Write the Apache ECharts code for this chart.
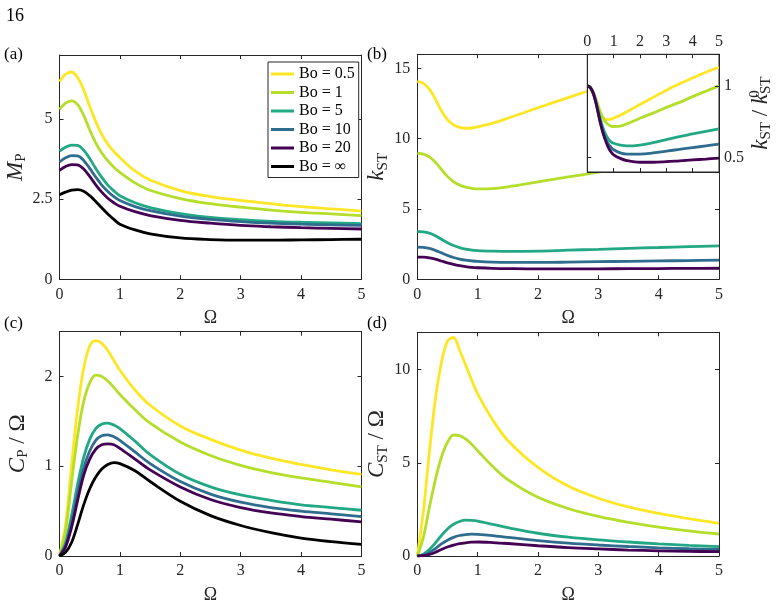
<!DOCTYPE html>
<html><head><meta charset="utf-8">
<script src="https://cdn.jsdelivr.net/npm/echarts@6/dist/echarts.min.js"></script>
<style>html,body{margin:0;padding:0;background:#fff}#c{width:776px;height:605px}</style>
</head><body><div id="c"></div>
<script>
// ---------- data ----------
const omega = [0,0.1,0.2,0.3,0.4,0.5,0.6,0.7,0.8,0.9,1,1.25,1.5,2,2.5,3,3.5,4,4.5,5];
const boNames = ['Bo = 0.5','Bo = 1','Bo = 5','Bo = 10','Bo = 20','Bo = ∞'];
const boColors = ['#FDE725','#B5DE2B','#22A884','#2F6D8E','#440154','#000000'];
const xTickVals = [0,1,2,3,4,5];
const aTickVals = [0,2.5,5];
const bTickVals = [0,5,10,15];
const cTickVals = [0,1,2];
const dTickVals = [0,5,10];
const insetTickVals = [0.5,1];

// (a) M_P
const mP_bo05 = [6.17,6.40,6.47,6.30,5.92,5.40,4.92,4.52,4.22,3.99,3.80,3.38,3.10,2.77,2.58,2.46,2.36,2.27,2.20,2.13];
const mP_bo1  = [5.30,5.50,5.57,5.45,5.12,4.66,4.26,3.94,3.70,3.50,3.34,3.01,2.78,2.52,2.36,2.25,2.16,2.09,2.04,1.99];
const mP_bo5  = [4.00,4.12,4.19,4.18,4.03,3.77,3.46,3.18,2.94,2.76,2.61,2.39,2.24,2.05,1.93,1.86,1.81,1.78,1.76,1.74];
const mP_bo10 = [3.66,3.79,3.86,3.85,3.71,3.46,3.19,2.94,2.74,2.58,2.46,2.27,2.14,1.97,1.87,1.80,1.75,1.72,1.70,1.68];
const mP_bo20 = [3.40,3.52,3.58,3.57,3.44,3.21,2.95,2.72,2.53,2.39,2.28,2.11,1.99,1.84,1.75,1.68,1.64,1.61,1.59,1.57];
const mP_inf  = [2.64,2.72,2.78,2.80,2.75,2.61,2.43,2.23,2.04,1.87,1.72,1.54,1.42,1.29,1.24,1.22,1.22,1.23,1.24,1.25];

// (b) k_ST
const kST_bo05 = [14.07,13.93,13.52,12.81,11.98,11.35,10.98,10.80,10.74,10.76,10.84,11.10,11.45,12.20,12.92,13.62,14.25,14.85,15.40,15.95];
const kST_bo1  = [8.98,8.90,8.70,8.32,7.82,7.32,6.95,6.70,6.55,6.47,6.43,6.45,6.58,6.93,7.28,7.62,7.95,8.30,8.65,8.98];
const kST_bo5  = [3.40,3.38,3.28,3.10,2.85,2.60,2.40,2.25,2.14,2.08,2.04,2.00,1.98,2.00,2.07,2.13,2.20,2.26,2.32,2.38];
const kST_bo10 = [2.29,2.27,2.20,2.06,1.88,1.70,1.55,1.44,1.36,1.31,1.27,1.22,1.20,1.20,1.22,1.25,1.28,1.31,1.33,1.36];
const kST_bo20 = [1.58,1.57,1.52,1.43,1.30,1.17,1.06,0.97,0.90,0.85,0.82,0.78,0.76,0.74,0.74,0.745,0.755,0.765,0.775,0.785];

// (b) inset k_ST / k_ST^0
const kr_bo05 = [1,0.99,0.96,0.91,0.85,0.81,0.78,0.768,0.765,0.768,0.775,0.795,0.82,0.87,0.92,0.97,1.015,1.055,1.095,1.13];
const kr_bo1  = [1,0.99,0.97,0.925,0.87,0.815,0.775,0.745,0.73,0.72,0.717,0.72,0.735,0.775,0.81,0.85,0.885,0.925,0.963,1.0];
const kr_bo5  = [1,0.994,0.965,0.91,0.84,0.765,0.705,0.66,0.63,0.61,0.60,0.588,0.582,0.588,0.605,0.626,0.647,0.665,0.683,0.70];
const kr_bo10 = [1,0.99,0.96,0.90,0.82,0.74,0.675,0.63,0.595,0.572,0.555,0.533,0.525,0.525,0.533,0.545,0.558,0.57,0.582,0.594];
const kr_bo20 = [1,0.99,0.96,0.905,0.825,0.74,0.67,0.615,0.57,0.54,0.52,0.495,0.48,0.468,0.468,0.472,0.478,0.484,0.49,0.497];

// (c) C_P / Omega
const cP_bo05 = [0,0.35,1.01,1.64,2.09,2.34,2.40,2.37,2.29,2.18,2.07,1.85,1.68,1.45,1.30,1.18,1.09,1.02,0.96,0.91];
const cP_bo1  = [0,0.28,0.82,1.34,1.72,1.93,2.015,2.0,1.95,1.88,1.80,1.63,1.48,1.27,1.12,1.01,0.93,0.87,0.82,0.77];
const cP_bo5  = [0,0.15,0.45,0.80,1.10,1.30,1.42,1.47,1.48,1.46,1.42,1.28,1.13,0.91,0.77,0.68,0.62,0.57,0.54,0.51];
const cP_bo10 = [0,0.12,0.38,0.70,0.98,1.17,1.29,1.34,1.35,1.33,1.29,1.16,1.03,0.83,0.69,0.60,0.54,0.50,0.47,0.44];
const cP_bo20 = [0,0.10,0.32,0.62,0.90,1.08,1.19,1.24,1.25,1.24,1.20,1.08,0.96,0.77,0.63,0.54,0.48,0.44,0.41,0.38];
const cP_inf  = [0,0.04,0.15,0.35,0.57,0.75,0.88,0.97,1.02,1.04,1.03,0.95,0.83,0.61,0.45,0.34,0.26,0.20,0.16,0.13];

// (d) C_ST / Omega
const cST_bo05 = [0,2.37,5.57,8.42,10.37,11.53,11.72,11.05,10.25,9.45,8.7,7.3,6.2,4.75,3.75,3.1,2.63,2.28,2.0,1.75];
const cST_bo1  = [0,1.0,2.6,4.1,5.3,6.1,6.49,6.46,6.28,6.0,5.65,4.8,4.1,3.15,2.55,2.12,1.8,1.55,1.35,1.18];
const cST_bo5  = [0,0.1,0.35,0.7,1.1,1.45,1.7,1.85,1.92,1.91,1.87,1.7,1.52,1.22,1.01,0.86,0.75,0.65,0.57,0.5];
const cST_bo10 = [0,0.05,0.18,0.4,0.65,0.85,1.0,1.1,1.15,1.17,1.16,1.09,1.0,0.83,0.69,0.59,0.51,0.44,0.39,0.35];
const cST_bo20 = [0,0.02,0.08,0.2,0.35,0.48,0.58,0.66,0.71,0.74,0.75,0.72,0.67,0.55,0.45,0.38,0.32,0.28,0.25,0.23];

// ---------- chart ----------
const FONT = '"Liberation Serif","Times New Roman",serif';
const AX = '#262626';
const pair = arr => omega.map((w,i)=>[w, arr[i]]);

const richY = {
  i:{fontFamily:FONT,fontStyle:'italic',fontSize:23,color:AX,lineHeight:26,verticalAlign:'middle'},
  r:{fontFamily:FONT,fontSize:23,color:AX,lineHeight:26,verticalAlign:'middle'},
  s:{fontFamily:FONT,fontSize:15,color:AX,lineHeight:15,verticalAlign:'bottom'},
  z:{fontFamily:FONT,fontSize:15,color:AX,lineHeight:15,verticalAlign:'top',width:0}
};

function xAx(g, pos, showLabel, ticks, extra){
  return Object.assign({gridIndex:g,type:'value',min:0,max:5,position:pos,
    axisLine:{show:true,onZero:false,lineStyle:{color:AX,width:1}},
    axisTick:{show:true,inside:true,length:4,customValues:ticks,lineStyle:{color:AX,width:1}},
    axisLabel:{show:showLabel,customValues:ticks,color:AX,fontFamily:FONT,fontSize:16,margin:7},
    splitLine:{show:false}}, extra||{});
}
function yAx(g, pos, showLabel, min, max, ticks, extra){
  return Object.assign({gridIndex:g,type:'value',min:min,max:max,position:pos,
    axisLine:{show:true,onZero:false,lineStyle:{color:AX,width:1}},
    axisTick:{show:true,inside:true,length:4,customValues:ticks,lineStyle:{color:AX,width:1}},
    axisLabel:{show:showLabel,customValues:ticks,color:AX,fontFamily:FONT,fontSize:16,margin:7},
    splitLine:{show:false}}, extra||{});
}
const omegaName = {name:'Ω',nameLocation:'middle',nameGap:30,nameTextStyle:{fontFamily:FONT,fontSize:18,color:AX}};
function yName(txt,gap){return {name:txt,nameLocation:'middle',nameRotate:90,nameGap:gap,nameTextStyle:{rich:richY}};}

const grids = [
  {left:59.5,top:55,width:302,height:224.3},
  {left:417.3,top:54.3,width:301.7,height:225},
  {left:59.5,top:331.7,width:302,height:224.3},
  {left:417.3,top:332.3,width:301.7,height:223.7},
  {left:587.3,top:54.3,width:131.7,height:117.7,show:true,backgroundColor:'#fff',borderColor:AX,borderWidth:1,z:5}
];

const xAxes = [
  xAx(0,'bottom',true,xTickVals,omegaName), xAx(0,'top',false,xTickVals),
  xAx(1,'bottom',true,xTickVals,omegaName), xAx(1,'top',false,xTickVals),
  xAx(2,'bottom',true,xTickVals,omegaName), xAx(2,'top',false,xTickVals),
  xAx(3,'bottom',true,xTickVals,omegaName), xAx(3,'top',false,xTickVals),
  xAx(4,'top',true,xTickVals,{z:8}), xAx(4,'bottom',false,xTickVals,{z:8})
];
xAxes[8].axisLabel.margin = 5;
const yAxes = [
  yAx(0,'left',true,0,7,aTickVals,yName('{i|M}{s|P}',29)), yAx(0,'right',false,0,7,aTickVals),
  yAx(1,'left',true,0,16,bTickVals,yName('{i|k}{s|ST}',23)), yAx(1,'right',false,0,16,bTickVals),
  yAx(2,'left',true,0,2.5,cTickVals,yName('{i|C}{s|P}{r| / Ω}',29)), yAx(2,'right',false,0,2.5,cTickVals),
  yAx(3,'left',true,0,12,dTickVals,yName('{i|C}{s|ST}{r| / Ω}',23)), yAx(3,'right',false,0,12,dTickVals),
  yAx(4,'right',true,0.4,1.22,insetTickVals,Object.assign({z:8},yName('{i|k}{s|ST}{r| / }{i|k}{z|0}{s|ST}',24))),
  yAx(4,'left',false,0.4,1.22,insetTickVals,{z:8})
];
yAxes[8].axisLabel.margin = 5;

const series = [];
function addSeries(g, arrs, extra){
  arrs.forEach((arr,k)=>{
    series.push(Object.assign({type:'line',name:boNames[k],xAxisIndex:2*g,yAxisIndex:2*g,
      data:pair(arr),showSymbol:false,symbol:'none',smooth:0.35,
      lineStyle:{width:2.8,color:boColors[k]},itemStyle:{color:boColors[k]},
      silent:true,animation:false}, extra||{}));
  });
}
addSeries(0,[mP_bo05,mP_bo1,mP_bo5,mP_bo10,mP_bo20,mP_inf]);
addSeries(1,[kST_bo05,kST_bo1,kST_bo5,kST_bo10,kST_bo20]);
addSeries(2,[cP_bo05,cP_bo1,cP_bo5,cP_bo10,cP_bo20,cP_inf]);
addSeries(3,[cST_bo05,cST_bo1,cST_bo5,cST_bo10,cST_bo20]);
addSeries(4,[kr_bo05,kr_bo1,kr_bo5,kr_bo10,kr_bo20],{z:7});

const txt = (t,l,tp,fs)=>({type:'text',left:l,top:tp,style:{text:t,font:fs+'px '+FONT,fill:'#000'}});

const option = {
  animation:false,
  backgroundColor:'#fff',
  grid:grids, xAxis:xAxes, yAxis:yAxes, series:series,
  legend:{data:boNames,orient:'vertical',left:268,top:62,itemWidth:23,itemHeight:3,icon:'rect',
    itemGap:2.5,itemTextGap:3,padding:[4,4,3,3],backgroundColor:'#fff',borderColor:AX,borderWidth:1,
    borderRadius:0,selectedMode:false,textStyle:{fontFamily:FONT,fontSize:16,color:'#000'}},
  graphic:[
    txt('16',6,7,18),
    txt('(a)',4,46,17), txt('(b)',367,46,17),
    txt('(c)',4,315,17), txt('(d)',367,315,17)
  ]
};
const chart = echarts.init(document.getElementById('c'),null,{renderer:'canvas'});
chart.setOption(option);
</script></body></html>
